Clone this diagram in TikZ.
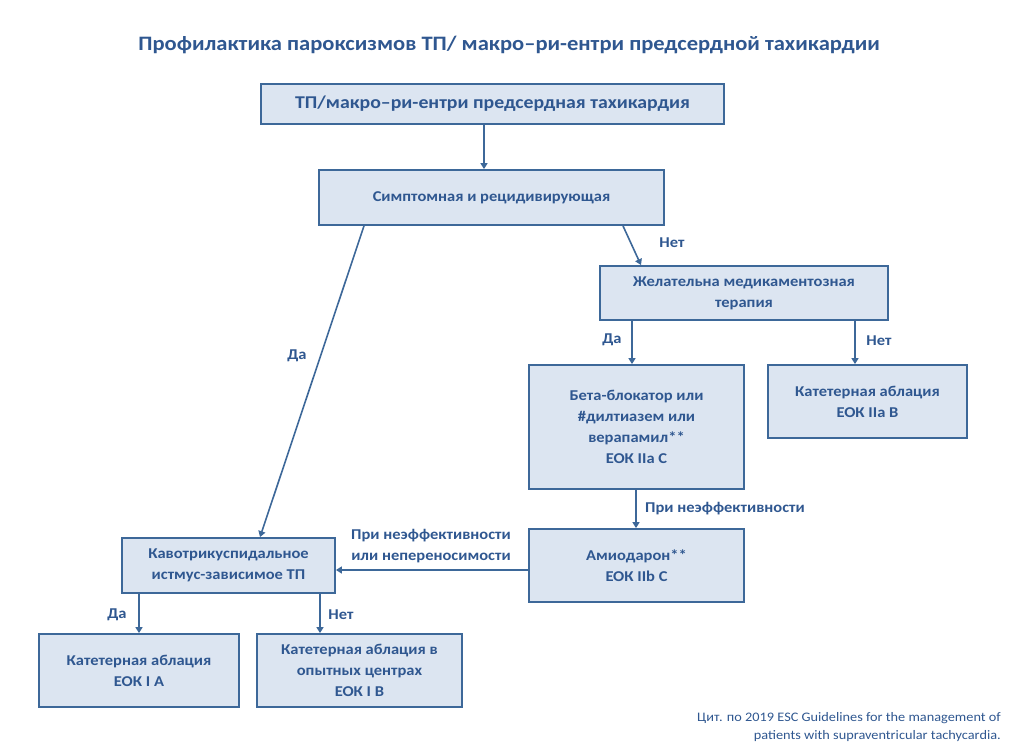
\documentclass[tikz,border=0pt]{standalone}
\usepackage{fontspec}
\setmainfont{Carlito}[FakeStretch=1.1]
\usetikzlibrary{arrows.meta}
\definecolor{txt}{HTML}{2F5790}
\definecolor{boxfill}{HTML}{DCE5F1}
\definecolor{boxline}{HTML}{3D6899}
\tikzset{
  box/.style={draw=boxline, fill=boxfill, line width=1.8pt, align=center, text=txt, font=\bfseries\fontsize{15}{21}\selectfont, inner sep=0pt},
  conn/.style={draw=boxline, line width=1.6pt, -{Triangle[length=6pt,width=7pt]}},
  lbl/.style={text=txt, font=\bfseries\fontsize{15}{21}\selectfont, inner sep=0pt},
}
\begin{document}
\begin{tikzpicture}[x=1pt,y=-1pt]
\useasboundingbox (0,0) rectangle (1009,755);
\node[text=txt, font=\bfseries\fontsize{20.5}{24}\selectfont] (title) at (509,45) {Профилактика пароксизмов ТП/ макро–ри-ентри предсердной тахикардии};

\node[box, minimum width=463pt, minimum height=40pt, font=\bfseries\fontsize{18}{22}\selectfont] (top) at (492.5,104) {ТП/макро–ри-ентри предсердная тахикардия};
\node[box, minimum width=345pt, minimum height=55pt] (symp) at (491.5,197.5) {Симптомная и рецидивирующая};
\node[box, minimum width=288pt, minimum height=54pt] (med) at (744,293) {Желательна медикаментозная\\терапия};
\node[box, minimum width=215pt, minimum height=124pt] (beta) at (636.5,427) {Бета-блокатор или\\\#дилтиазем или\\верапамил**\\ЕОК IIa C};
\node[box, minimum width=199pt, minimum height=73pt] (abl2) at (867.5,401.5) {Катетерная аблация\\ЕОК IIa B};
\node[box, minimum width=215pt, minimum height=73pt] (amio) at (636.5,565.5) {Амиодарон**\\ЕОК IIb C};
\node[box, minimum width=213pt, minimum height=55pt] (cavo) at (228.5,565.5) {Кавотрикуспидальное\\истмус-зависимое ТП};
\node[box, minimum width=200pt, minimum height=73pt] (abl1) at (139,670.5) {Катетерная аблация\\ЕОК I A};
\node[box, minimum width=205pt, minimum height=73pt] (abl3) at (359.5,670.5) {Катетерная аблация в\\опытных центрах\\ЕОК I B};

\draw[conn] (top.south -| 484,0) -- (symp.north -| 484,0);
\draw[conn] (symp.south -| 364,0) -- (cavo.north -| 260,0);
\draw[conn] (symp.south -| 623,0) -- (med.north -| 641,0);
\draw[conn] (med.south -| 632,0) -- (beta.north -| 632,0);
\draw[conn] (med.south -| 855,0) -- (abl2.north -| 855,0);
\draw[conn] (beta.south -| 636,0) -- (amio.north -| 636,0);
\draw[conn] (amio.west |- 0,570) -- (cavo.east |- 0,570);
\draw[conn] (cavo.south -| 139,0) -- (abl1.north -| 139,0);
\draw[conn] (cavo.south -| 320,0) -- (abl3.north -| 320,0);

\node[lbl] (l1) at (297,356) {Да};
\node[lbl] (l2) at (672,243) {Нет};
\node[lbl] (l3) at (612,340) {Да};
\node[lbl] (l4) at (879,341) {Нет};
\node[lbl, anchor=west] (l5) at (645,509) {При неэффективности};
\node[lbl, align=center] (l6) at (431,546) {При неэффективности\\или непереносимости};
\node[lbl] (l7) at (117,615) {Да};
\node[lbl] (l8) at (341,615) {Нет};

\node[text=txt, align=right, anchor=east, font=\fontsize{13}{18}\selectfont, inner sep=0pt] (foot) at (1001,727) {Цит. по 2019 ESC Guidelines for the management of\\patients with supraventricular tachycardia.};
\end{tikzpicture}
\end{document}
